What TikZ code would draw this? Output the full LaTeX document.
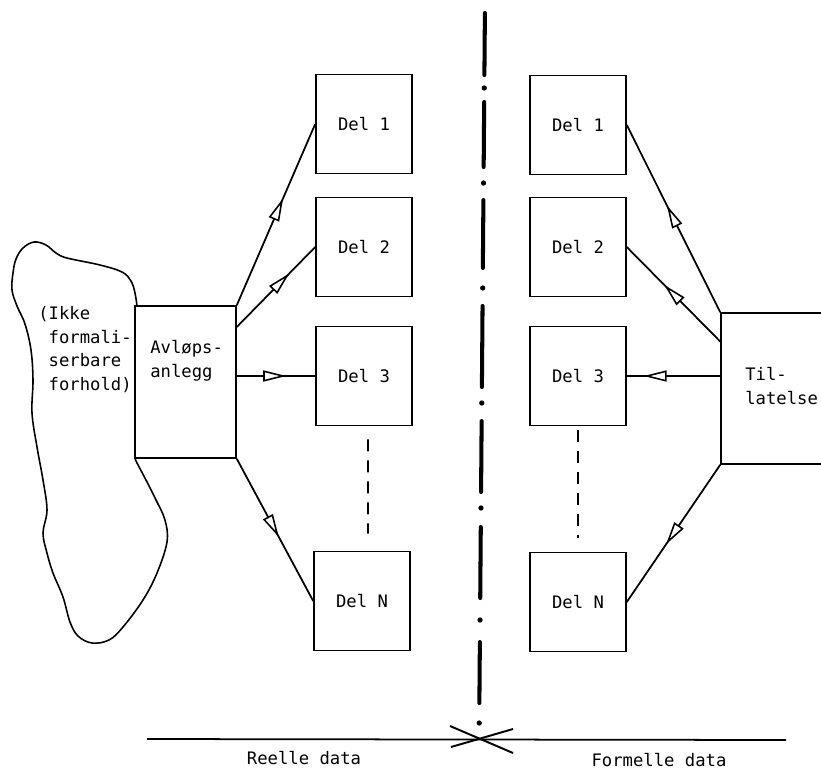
\documentclass[tikz,border=0pt]{standalone}
\usepackage{fontspec}
\setmonofont{DejaVu Sans Mono}
\usetikzlibrary{arrows.meta, decorations.markings}
\tikzset{
    tekst/.style={font=\ttfamily\fontsize{9.8}{13.5}\selectfont},
    delbox/.style={rectangle, draw, line width=0.9pt, tekst, minimum width=1.92cm, minimum height=1.98cm, inner sep=0pt},
    storbox/.style={rectangle, draw, line width=0.9pt, inner sep=0pt},
    flow/.style={line width=1pt, postaction={decorate}, decoration={markings, mark=at position #1 with {\arrow{Triangle[open, fill=white, length=4.6mm, width=2.2mm, line width=0.9pt]}}}},
    flow/.default=0.6,
}

\begin{document}
\begin{tikzpicture}[x=0.02cm, y=-0.02cm]
    \useasboundingbox (0,0) rectangle (821,778);

    % reelle data
    \node[delbox] (l1) at (364,124) {Del 1};
    \node[delbox] (l2) at (364,247) {Del 2};
    \node[delbox] (l3) at (364,376) {Del 3};
    \node[delbox] (ln) at (362,601) {Del N};
    \node[storbox, minimum width=2.02cm, minimum height=3.04cm] (avl) at (185.5,382) {};
    \node[tekst, anchor=north west, align=left, inner sep=0pt] (avltxt) at (150,340) {Avløps-\\anlegg};

    % formelle data
    \node[delbox] (r1) at (578,125) {Del 1};
    \node[delbox] (r2) at (578,247) {Del 2};
    \node[delbox] (r3) at (578,376) {Del 3};
    \node[delbox] (rn) at (578,602) {Del N};
    \node[storbox, minimum width=4cm, minimum height=3.02cm] (til) at (821,388.5) {};
    \node[tekst, anchor=north west, align=left, inner sep=0pt] (tiltxt) at (745,367) {Til-\\latelse};

    % omriss rundt det ikke formaliserbare
    \draw[line width=0.9pt] plot[smooth, tension=0.6] coordinates {
        (137,306) (135,293) (131,281) (122,272) (100,265) (67,258) (56,253) (46,245)
        (34,242) (23,248) (16,259) (13,273) (12,290) (17,306) (25,324) (31,350)
        (33,380) (32,413) (37,447) (43,480) (47,510) (43,533) (47,553) (53,573)
        (63,597) (70,622) (78,636) (92,643) (109,640) (123,627) (143,600) (157,573)
        (167,542) (165,520) (156,500) (146,480) (137,463) (135,458)};
    \node[tekst, anchor=north west, align=left, inner sep=0pt] (ikke) at (38,306)
        {(Ikke\\\hphantom{(}formali-\\\hphantom{(}serbare\\\hphantom{(}forhold)};

    % piler
    \draw[flow=0.59] (avl.north east) -- (l1.west);
    \draw[flow=0.67] (avl.47) -- (l2.west);
    \draw[flow=0.63] (avl.east |- l3.west) -- (l3.west);
    \draw[flow=0.55] (avl.south east) -- (ln.west);
    \draw[flow=0.57] (til.north west) -- (r1.east);
    \draw[flow=0.60] (til.155.5) -- (r2.east);
    \draw[flow=0.82] (til.west |- r3.east) -- (r3.east);
    \draw[flow=0.58] (til.south west) -- (rn.east);

    \draw[line width=1pt, dash pattern=on 0.24cm off 0.18cm, shorten <=0.26cm, shorten >=0.34cm] ([xshift=0.08cm]l3.south) -- ([xshift=0.12cm]ln.north);
    \draw[line width=1pt, dash pattern=on 0.24cm off 0.18cm, shorten <=0.08cm, shorten >=0.28cm] (r3.south) -- (rn.north);

    % skillelinje
    \foreach \a/\b in {13/75, 102/167, 200/268, 306/387, 421/492, 527/598, 642/703}
        \draw[line width=2.3pt, line cap=round] ({485-0.008*\a},\a) -- ({485-0.008*\b},\b);
    \foreach \d in {88,183,288,403,508,620,723}
        \fill ({485-0.008*\d},\d) circle (1.5pt);

    \draw[line width=1pt] (147,739) -- (786,740);
    \draw[line width=1.1pt] (450,726) -- (513,753);
    \draw[line width=1.1pt] (451,747) -- (513,729);
    \node[tekst] (reelle) at (304,758) {Reelle data};
    \node[tekst] (formelle) at (659,760) {Formelle data};
\end{tikzpicture}
\end{document}
